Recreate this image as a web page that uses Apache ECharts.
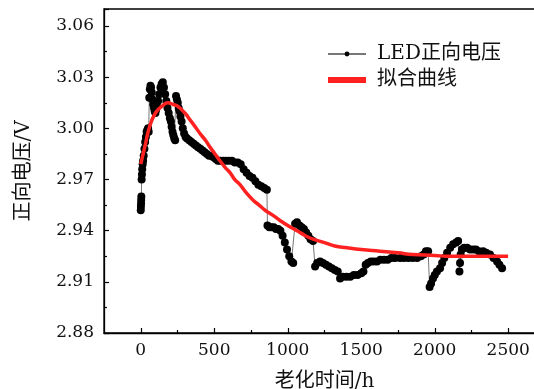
<!DOCTYPE html>
<html>
<head>
<meta charset="utf-8">
<script src="https://cdn.jsdelivr.net/npm/echarts@6/dist/echarts.min.js"></script>
<style>
  html, body { margin: 0; padding: 0; background: #fff; }
  #main { width: 534px; height: 389px; }
</style>
</head>
<body>
<div id="main"></div>
<script>
var ledHours = [
    0, 1, 2, 3, 4, 6, 8, 10, 13, 16, 20, 25, 30, 35, 40, 45, 50, 54,
    58, 62, 66, 70, 75, 80, 85, 90, 95, 100, 105, 110, 118, 126, 134, 142, 150, 158, 166, 174, 182, 190, 198, 205,
    210, 216, 222, 228, 234,
    240, 246, 252, 258, 264, 270, 278, 286, 295, 305, 315, 330, 345, 360, 375, 390, 405, 420, 435, 450, 465, 480, 495, 510, 525,
    540, 560, 580, 600, 620, 640, 660, 680, 700, 720, 740, 760, 780, 800, 820, 840, 858,
    862, 875, 890, 905, 920, 935, 950, 965, 980, 995, 1010, 1025, 1037,
    1050, 1063, 1080, 1095, 1110, 1125, 1140, 1155, 1172,
    1186, 1200, 1220, 1240, 1260, 1280, 1300, 1320, 1340, 1356, 1375, 1400, 1425, 1450, 1475, 1500, 1515,
    1530, 1545, 1565, 1585, 1607, 1630, 1655, 1680, 1705, 1730, 1764, 1790, 1820, 1850, 1880, 1905, 1925, 1940, 1955,
    1965, 1975, 1988, 2000, 2015, 2036, 2050, 2065, 2084, 2105, 2125, 2145, 2159,
    2168, 2172, 2176, 2185, 2200, 2220, 2240, 2261, 2280, 2300, 2329, 2350, 2376, 2400, 2424, 2440, 2458
];
var ledVoltage = [
    2.952, 2.954, 2.956, 2.958, 2.960, 2.970, 2.973, 2.976, 2.979, 2.981, 2.984, 2.988, 2.992, 2.995, 2.998, 2.999, 3.000, 2.998,
    3.018, 3.023, 3.025, 3.024, 3.021, 3.017, 3.014, 3.012, 3.010, 3.009, 3.011, 3.013, 3.016, 3.020, 3.024, 3.026, 3.027, 3.024, 3.020, 3.016, 3.012, 3.009, 3.006, 3.004,
    3.001, 2.998, 2.996, 2.994, 2.993,
    3.019, 3.017, 3.015, 3.012, 3.010, 3.007, 3.004, 3.000, 2.997, 2.995, 2.994, 2.993, 2.992, 2.991, 2.990, 2.989, 2.988, 2.987, 2.986, 2.985, 2.984, 2.984, 2.983, 2.982, 2.981,
    2.981, 2.981, 2.981, 2.981, 2.981, 2.980, 2.980, 2.979, 2.976, 2.974, 2.972, 2.971, 2.969, 2.967, 2.966, 2.965, 2.964,
    2.943, 2.942, 2.942, 2.942, 2.941, 2.941, 2.940, 2.937, 2.933, 2.929, 2.925, 2.922, 2.921,
    2.944, 2.945, 2.943, 2.942, 2.941, 2.939, 2.937, 2.935, 2.934,
    2.919, 2.921, 2.922, 2.921, 2.920, 2.919, 2.918, 2.917, 2.916, 2.912, 2.913, 2.913, 2.913, 2.914, 2.914, 2.915, 2.916,
    2.920, 2.921, 2.922, 2.922, 2.922, 2.923, 2.923, 2.923, 2.924, 2.924, 2.924, 2.924, 2.924, 2.924, 2.924, 2.925, 2.926, 2.928, 2.928,
    2.907, 2.909, 2.912, 2.914, 2.916, 2.918, 2.921, 2.924, 2.927, 2.930, 2.932, 2.933, 2.934,
    2.916, 2.921, 2.926, 2.929, 2.930, 2.930, 2.929, 2.929, 2.929, 2.928, 2.928, 2.927, 2.926, 2.924, 2.922, 2.920, 2.918
];

// fitted curve
var fitHours = [0, 30, 60, 100, 145, 186, 220, 250, 300, 335, 370, 403, 440, 471, 505, 539, 575, 607, 640, 675, 720, 763, 805, 846,
    900, 947, 1000, 1063, 1120, 1172, 1250, 1320, 1403, 1500, 1628, 1750, 1852, 2000, 2084, 2200, 2350, 2499];
var fitVoltage = [2.979, 2.990, 3.001, 3.009, 3.013, 3.015, 3.014, 3.013, 3.009, 3.005, 3.001, 2.997, 2.993, 2.989, 2.985, 2.981, 2.977, 2.974, 2.970, 2.967, 2.962, 2.958, 2.955, 2.952,
    2.949, 2.946, 2.943, 2.940, 2.937, 2.935, 2.933, 2.931, 2.930, 2.929, 2.928, 2.927, 2.926, 2.9255, 2.925, 2.925, 2.925, 2.925];

var xTicks = [0, 500, 1000, 1500, 2000, 2500];
var xMinorTicks = [250, 750, 1250, 1750, 2250];
var seriesNames = ['LED正向电压', '拟合曲线'];

var latin = '"DejaVu Serif", "Noto Sans CJK SC", serif';

function pairs(xs, ys) {
    var out = [];
    for (var i = 0; i < xs.length; i++) {
        out.push([xs[i], ys[i]]);
    }
    return out;
}

var chart = echarts.init(document.getElementById('main'), null, { renderer: 'canvas' });

var opt = {
    animation: false,
    backgroundColor: '#fff',
    grid: {
        left: 104, top: 9, width: 441, height: 324,
        outerBoundsMode: 'none', containLabel: false,
        show: true, borderColor: '#000', borderWidth: 1.3, backgroundColor: 'transparent'
    },
    legend: {
        orient: 'vertical',
        left: 322, top: 39,
        itemWidth: 38, itemHeight: 6, itemGap: 6,
        textStyle: { fontFamily: latin, fontSize: 20, color: '#111', padding: [0, 0, 0, 6] },
        data: [
            { name: seriesNames[0] },
            { name: seriesNames[1], icon: 'rect' }
        ]
    },
    xAxis: [{
        type: 'value', min: -250, max: 2750,
        name: '老化时间/h', nameLocation: 'middle', nameGap: 39,
        nameTextStyle: { fontFamily: latin, fontSize: 20, color: '#111' },
        axisLine: { show: true, onZero: false, lineStyle: { color: '#000', width: 1.3 } },
        axisTick: { show: true, inside: true, length: 5, customValues: xTicks, lineStyle: { color: '#000', width: 1.2 } },
        axisLabel: {
            customValues: xTicks, margin: 9, fontFamily: latin, fontSize: 17, color: '#111',
            formatter: function (v) { return String(v); }
        },
        splitLine: { show: false }
    }, {
        type: 'value', min: -250, max: 2750, position: 'bottom',
        axisLine: { show: false, onZero: false },
        axisTick: { show: true, inside: true, length: 3, customValues: xMinorTicks, lineStyle: { color: '#000', width: 1.2 } },
        axisLabel: { show: false },
        splitLine: { show: false }
    }],
    yAxis: {
        type: 'value', min: 2.88, max: 3.07, interval: 0.03,
        name: '正向电压/V', nameLocation: 'middle', nameGap: 70,
        nameTextStyle: { fontFamily: latin, fontSize: 20, color: '#111' },
        axisLine: { show: true, onZero: false, lineStyle: { color: '#000', width: 1.3 } },
        axisTick: { show: true, inside: true, length: 5, lineStyle: { color: '#000', width: 1.2 } },
        minorTick: { show: true, splitNumber: 2, length: 3, lineStyle: { color: '#000', width: 1.2 } },
        axisLabel: {
            margin: 10, fontFamily: latin, fontSize: 17, color: '#111',
            showMaxLabel: false,
            formatter: function (v) { return v.toFixed(2); }
        },
        splitLine: { show: false }
    },
    series: [{
        name: seriesNames[0],
        type: 'line',
        data: pairs(ledHours, ledVoltage),
        symbol: 'circle', symbolSize: 8, showAllSymbol: true,
        itemStyle: { color: '#000' },
        lineStyle: { color: '#777', width: 1 },
        z: 2
    }, {
        name: seriesNames[1],
        type: 'line',
        data: pairs(fitHours, fitVoltage),
        smooth: true,
        symbol: 'none',
        itemStyle: { color: '#ff2020' },
        lineStyle: { color: '#ff2020', width: 3.5 },
        z: 3
    }]
};
chart.setOption(opt);
</script>
</body>
</html>
